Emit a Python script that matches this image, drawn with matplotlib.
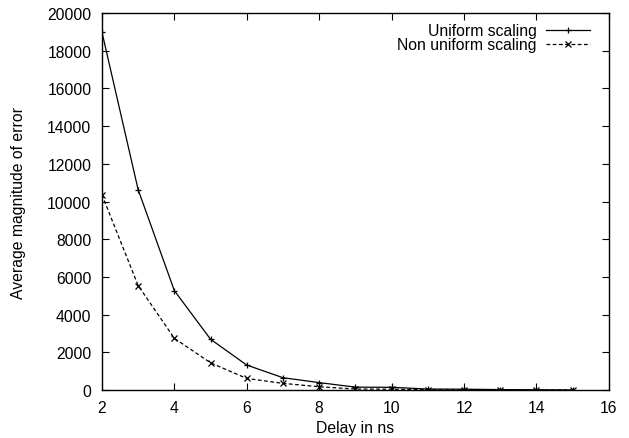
import numpy as np
import matplotlib
matplotlib.use('Agg')
import matplotlib.pyplot as plt

delay = [2, 3, 4, 5, 6, 7, 8, 9, 10, 11, 12, 13, 14, 15]
uniform = [19000, 10640, 5280, 2700, 1330, 660, 400, 160, 150, 60, 50, 30, 20, 10]
non_uniform = [10370, 5550, 2750, 1450, 620, 360, 180, 60, 50, 25, 15, 10, 8, 5]

plt.rcParams['font.family'] = ['Liberation Sans', 'DejaVu Sans']
plt.rcParams['font.size'] = 11.3

fig = plt.figure(figsize=(6.29, 4.39), dpi=100)
ax = fig.add_axes([0.162, 0.109, 0.806, 0.859])

ax.plot(delay, uniform, color='black', lw=0.9, linestyle='-',
        marker='+', markersize=4.5, markeredgewidth=0.9, label='Uniform scaling')
ax.plot(delay, non_uniform, color='black', lw=0.9, linestyle=(0, (3, 2)),
        marker='x', markersize=3.8, markeredgewidth=0.9, label='Non uniform scaling')

ax.set_xlim(2, 16)
ax.set_ylim(0, 20000)
ax.set_xticks(np.arange(2, 17, 2))
ax.set_yticks(np.arange(0, 20001, 2000))
ax.tick_params(direction='in', top=True, right=True, length=5, width=0.8)
ax.tick_params(axis='x', pad=7)
ax.tick_params(axis='y', pad=7.5)
for s in ax.spines.values():
    s.set_linewidth(1.0)

ax.set_xlabel('Delay in ns', labelpad=4)
ax.set_ylabel('Average magnitude of error', labelpad=15)

ax.legend(loc='upper right', bbox_to_anchor=(0.9625, 0.9735), frameon=False,
          markerfirst=False, borderpad=0, borderaxespad=0,
          handlelength=2.8, handletextpad=0.57, labelspacing=-0.05)

fig.savefig('out.png', dpi=100)
